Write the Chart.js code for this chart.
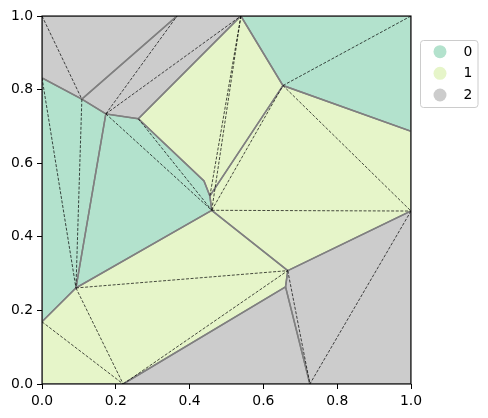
<!DOCTYPE html>
<html><head><meta charset="utf-8">
<script src="https://cdn.jsdelivr.net/npm/chart.js@4"></script>
<style>html,body{margin:0;padding:0;background:#fff;}canvas{display:block;}</style>
</head><body>
<canvas id="c" width="488" height="418"></canvas>
<script>
// vertex coordinates (data units)
const vertexX = [0, 0.366, 0.539, 1, 0, 0.108, 0.173, 0.261, 0.439, 0.455, 0.460, 0.653, 1, 1, 0.666, 0.660, 0.726, 0.220, 0.092, 0, 0, 1];
const vertexY = [1, 1, 1, 1, 0.832, 0.774, 0.734, 0.721, 0.552, 0.511, 0.472, 0.811, 0.687, 0.470, 0.308, 0.264, 0, 0, 0.261, 0.169, 0, 0];
// polygons as vertex indices, and their class
const polygons = [
  [0, 1, 5, 4],
  [1, 2, 7, 6, 5],
  [4, 5, 6, 18, 19],
  [6, 7, 8, 9, 10, 18],
  [7, 2, 11, 9, 8],
  [2, 3, 12, 11],
  [11, 12, 13, 14, 10, 9],
  [19, 18, 10, 14, 15, 17, 20],
  [17, 15, 16],
  [15, 14, 13, 21, 16]
];
const polygonClass = [2, 2, 0, 0, 1, 0, 1, 1, 2, 2];
// triangulation edges (dashed)
const triEdges = [[0,5],[4,18],[5,18],[6,1],[6,2],[6,10],[7,10],[2,9],[2,10],[10,11],[11,3],[11,13],[10,13],[18,14],[18,17],[19,17],[17,14],[14,16],[13,16]];
const classLabels = ['0', '1', '2'];
const classColors = ['#b3e2cd', '#e6f5c9', '#cccccc'];
const tickValues = [0, 0.2, 0.4, 0.6, 0.8, 1.0];

const datasets = [];
polygons.forEach((poly, i) => {
  const pts = poly.concat([poly[0]]).map(k => ({x: vertexX[k], y: vertexY[k]}));
  datasets.push({
    data: pts, showLine: true, fill: 'shape', tension: 0,
    backgroundColor: classColors[polygonClass[i]],
    borderColor: '#808080', borderWidth: 1.5, pointRadius: 0, order: 2
  });
});
triEdges.forEach(e => {
  datasets.push({
    data: e.map(k => ({x: vertexX[k], y: vertexY[k]})), showLine: true, fill: false,
    borderColor: '#000', borderWidth: 0.7, borderDash: [3, 1.6], pointRadius: 0, order: 1
  });
});

const framePlugin = {
  id: 'frameLegend',
  afterDraw(chart) {
    const ctx = chart.ctx, ca = chart.chartArea;
    ctx.save();
    ctx.strokeStyle = '#000'; ctx.lineWidth = 1.1;
    ctx.strokeRect(ca.left, ca.top, ca.right - ca.left, ca.bottom - ca.top);
    const bx = ca.right + 9.5, by = 40.5, bw = 57.5, bh = 67;
    ctx.fillStyle = 'rgba(255,255,255,0.8)';
    ctx.strokeStyle = '#cccccc'; ctx.lineWidth = 1;
    ctx.beginPath(); ctx.roundRect(bx, by, bw, bh, 3); ctx.fill(); ctx.stroke();
    ctx.font = '13.9px "DejaVu Sans"'; ctx.textBaseline = 'middle'; ctx.textAlign = 'left';
    classLabels.forEach((lab, i) => {
      const cy = 51.7 + i * 21.65;
      ctx.fillStyle = classColors[i];
      ctx.beginPath(); ctx.arc(ca.right + 29, cy, 6.5, 0, Math.PI * 2); ctx.fill();
      ctx.fillStyle = '#000';
      ctx.fillText(lab, ca.right + 52.5, cy + 0.5);
    });
    ctx.restore();
  }
};

Chart.defaults.font.family = '"DejaVu Sans"';
Chart.defaults.font.size = 13.9;
Chart.defaults.color = '#000';

const axisCommon = (fitProp, fitVal) => ({
  type: 'linear', min: 0, max: 1,
  afterBuildTicks: s => { s.ticks = tickValues.map(v => ({value: v})); },
  ticks: { callback: v => v.toFixed(1), padding: 4, color: '#000' },
  grid: { drawOnChartArea: false, drawTicks: true, tickLength: 5, color: '#000', tickWidth: 1 },
  border: { display: false },
  afterFit: s => { s[fitProp] = fitVal; }
});

new Chart(document.getElementById('c'), {
  type: 'scatter',
  data: { datasets },
  options: {
    responsive: false, animation: false, devicePixelRatio: 1, events: [],
    layout: { padding: { left: 0, right: 77, top: 16, bottom: 0 } },
    scales: { x: axisCommon('height', 34), y: axisCommon('width', 42) },
    plugins: { legend: { display: false }, tooltip: { enabled: false }, filler: { drawTime: 'beforeDatasetsDraw' } }
  },
  plugins: [framePlugin]
});
</script>
</body></html>
